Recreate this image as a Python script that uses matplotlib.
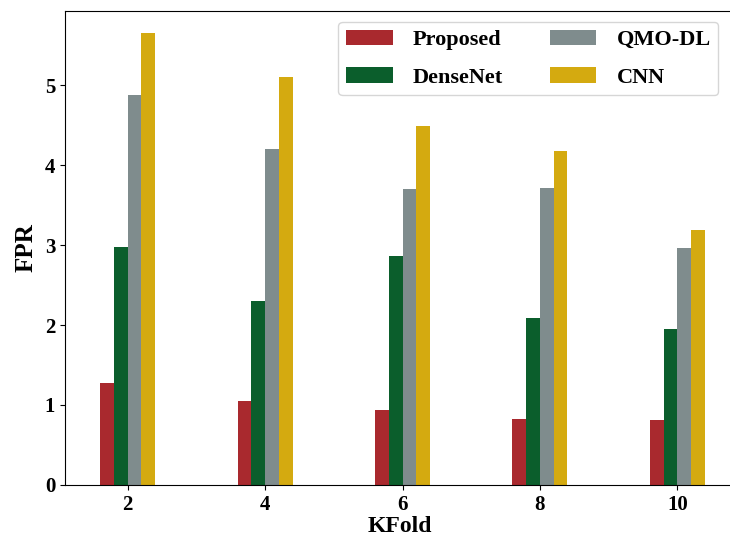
import numpy as np
import matplotlib
matplotlib.use("Agg")
import matplotlib.pyplot as plt

plt.rcParams['font.family'] = ['Liberation Serif', 'DejaVu Serif']
plt.rcParams['font.weight'] = 'bold'

kfold = [2, 4, 6, 8, 10]
proposed = [1.28, 1.05, 0.94, 0.82, 0.81]
densenet = [2.98, 2.30, 2.86, 2.09, 1.95]
qmo_dl = [4.88, 4.20, 3.70, 3.71, 2.96]
cnn = [5.65, 5.10, 4.49, 4.18, 3.19]

series = [("Proposed", proposed, "#A9292E"),
          ("DenseNet", densenet, "#0B5E2C"),
          ("QMO-DL", qmo_dl, "#7F8C8D"),
          ("CNN", cnn, "#D4AA10")]

fig = plt.figure(figsize=(7.3, 5.49), dpi=100)
ax = fig.add_axes([0.089, 0.1166, 0.918, 0.864])

x = np.array(kfold, dtype=float)
w = 0.2
offsets = [-0.3, -0.1, 0.1, 0.3]
for (name, vals, col), off in zip(series, offsets):
    ax.bar(x + off, vals, width=w, color=col, label=name)

ax.set_xticks(kfold)
ax.set_xlim(1.087, 10.84)
ax.set_ylim(0, 5.93)
ax.tick_params(labelsize=15)
for lab in ax.get_xticklabels() + ax.get_yticklabels():
    lab.set_fontweight('bold')
ax.set_xlabel("KFold", fontsize=17, fontweight='bold', labelpad=1)
ax.set_ylabel("FPR", fontsize=18, fontweight='bold', labelpad=5)

ax.legend(ncol=2, loc='upper right', bbox_to_anchor=(0.984, 0.96),
          bbox_transform=fig.transFigure, borderaxespad=0,
          prop={'size': 16, 'weight': 'bold'}, handlelength=2.1,
          handleheight=0.7, columnspacing=2.1, handletextpad=0.9,
          labelspacing=0.75, borderpad=0.35)

fig.savefig("out.png", dpi=100)
